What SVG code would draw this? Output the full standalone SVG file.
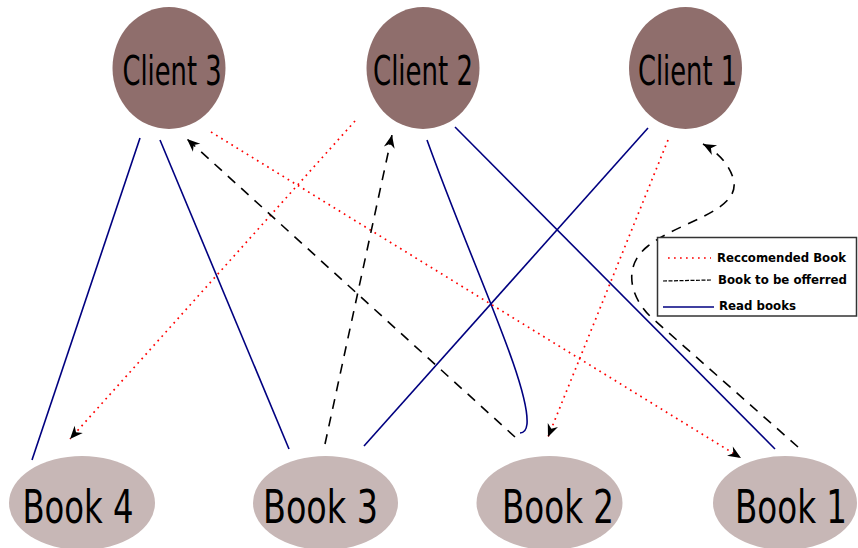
<svg xmlns="http://www.w3.org/2000/svg" width="858" height="548" viewBox="0 0 858 548">
  <style>
    .client { fill: #8f6e6c; }
    .book { fill: #c7b7b6; }
    .label { font-family: "DejaVu Sans Condensed", "DejaVu Sans", sans-serif; fill: #000; }
    .client-label { font-size: 30px; }
    .book-label { font-size: 32px; }
    .read { fill: none; stroke: #000080; stroke-width: 1.6; }
    .rec { fill: none; stroke: #ff0000; stroke-width: 1.7; stroke-dasharray: 1.7 4.3; }
    .offer { fill: none; stroke: #000; stroke-width: 1.6; stroke-dasharray: 10 8; }
    .legend-text { font-family: "DejaVu Sans", "Liberation Sans", sans-serif; font-weight: bold; font-size: 11.5px; fill: #000; }
  </style>
  <defs>
    <marker id="arrow" markerUnits="userSpaceOnUse" markerWidth="18" markerHeight="14" viewBox="-15 -7 17 14" refX="0" refY="0" orient="auto">
      <path d="M0,0 L-13,-5.5 L-9,0 L-13,5.5 Z" fill="#000"/>
    </marker>
  </defs>

  <rect width="858" height="548" fill="#fff"/>

  <!-- connectors -->
  <g id="connectors">
    <!-- read books -->
    <path class="read" d="M140,138 L32,460"/>
    <path class="read" d="M160,140 L289,449"/>
    <path class="read" d="M427,140 C472,265 530,385 527,424 Q526,433 520,433"/>
    <path class="read" d="M455,127 L775,449"/>
    <path class="read" d="M648,128 L364,446"/>

    <!-- recommended books -->
    <path class="rec" d="M355,121 L70,439" marker-end="url(#arrow)"/>
    <path class="rec" d="M211,132 L741,458" marker-end="url(#arrow)"/>
    <path class="rec" d="M668,140 L548,437" marker-end="url(#arrow)"/>

    <!-- books to be offered -->
    <path class="offer" d="M515,437 L187,139" marker-end="url(#arrow)"/>
    <path class="offer" d="M325,444 L392,135" marker-end="url(#arrow)"/>
    <path class="offer" d="M798,447 L652,318 C630,298 622,266 648,246 C678,222 738,212 734,182 C731,166 718,152 703,144" marker-end="url(#arrow)"/>
  </g>

  <!-- clients -->
  <g id="client3">
    <ellipse class="client" cx="169" cy="68" rx="56.5" ry="61"/>
    <text class="label client-label" transform="translate(122.5,85) scale(1,1.37)" textLength="99" lengthAdjust="spacingAndGlyphs">Client 3</text>
  </g>
  <g id="client2">
    <ellipse class="client" cx="423" cy="68" rx="56.5" ry="61"/>
    <text class="label client-label" transform="translate(373,85) scale(1,1.37)" textLength="100" lengthAdjust="spacingAndGlyphs">Client 2</text>
  </g>
  <g id="client1">
    <ellipse class="client" cx="685.5" cy="68" rx="56.5" ry="61"/>
    <text class="label client-label" transform="translate(638,85) scale(1,1.37)" textLength="99" lengthAdjust="spacingAndGlyphs">Client 1</text>
  </g>

  <!-- books -->
  <g id="book4">
    <ellipse class="book" cx="82" cy="503" rx="73" ry="47"/>
    <text class="label book-label" transform="translate(22.5,523) scale(1,1.47)" textLength="111" lengthAdjust="spacingAndGlyphs">Book 4</text>
  </g>
  <g id="book3">
    <ellipse class="book" cx="325.5" cy="503" rx="72.5" ry="47"/>
    <text class="label book-label" transform="translate(263,523) scale(1,1.47)" textLength="115" lengthAdjust="spacingAndGlyphs">Book 3</text>
  </g>
  <g id="book2">
    <ellipse class="book" cx="549.5" cy="503" rx="73" ry="47"/>
    <text class="label book-label" transform="translate(502,523) scale(1,1.47)" textLength="112" lengthAdjust="spacingAndGlyphs">Book 2</text>
  </g>
  <g id="book1">
    <ellipse class="book" cx="785" cy="503" rx="72" ry="47"/>
    <text class="label book-label" transform="translate(735,523) scale(1,1.47)" textLength="112" lengthAdjust="spacingAndGlyphs">Book 1</text>
  </g>

  <!-- legend -->
  <g id="legend">
    <rect x="657.5" y="237.5" width="199" height="78.5" fill="#fff" stroke="#333" stroke-width="1.5"/>
    <path class="rec" d="M668,258 L711,258" stroke-width="1.2" stroke-dasharray="1.2 2.6"/>
    <text class="legend-text" x="717" y="261.5" textLength="129" lengthAdjust="spacingAndGlyphs">Reccomended Book</text>
    <path d="M663,281 L712,280" fill="none" stroke="#000" stroke-width="1.2" stroke-dasharray="4 1.5"/>
    <text class="legend-text" x="718" y="284" textLength="129" lengthAdjust="spacingAndGlyphs">Book to be offerred</text>
    <path d="M663,307 L714,307" fill="none" stroke="#000080" stroke-width="1.3"/>
    <text class="legend-text" x="719" y="310" textLength="77" lengthAdjust="spacingAndGlyphs">Read books</text>
  </g>
</svg>
